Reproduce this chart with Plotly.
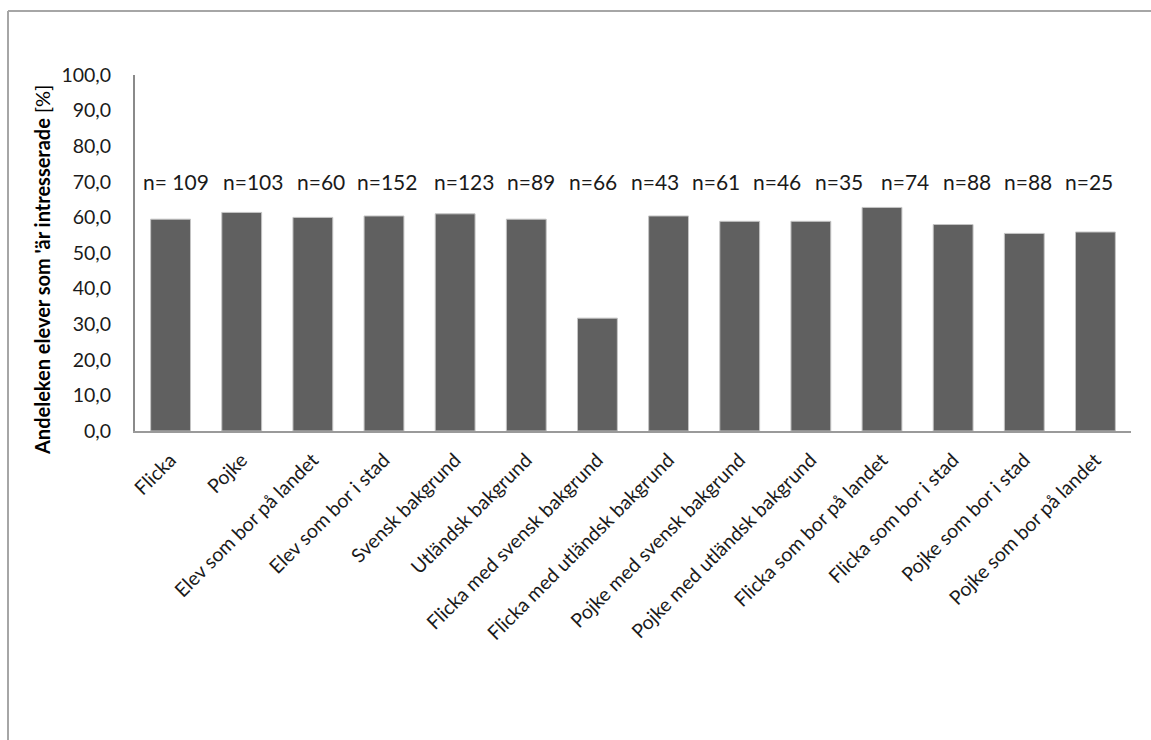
import plotly.graph_objects as go

# Share of pupils who are interested, per group (%)
categories = [
    "Flicka", "Pojke", "Elev som bor på landet", "Elev som bor i stad",
    "Svensk bakgrund", "Utländsk bakgrund", "Flicka med svensk bakgrund",
    "Flicka med utländsk bakgrund", "Pojke med svensk bakgrund",
    "Pojke med utländsk bakgrund", "Flicka som bor på landet",
    "Flicka som bor i stad", "Pojke som bor i stad", "Pojke som bor på landet",
]
values = [59.5, 61.4, 60.0, 60.4, 61.0, 59.5, 31.7, 60.4, 58.9, 58.9, 62.8, 58.0, 55.5, 55.9]

# Group sizes written in a row above the bars
n_labels = ["n= 109", "n=103", "n=60", "n=152", "n=123", "n=89", "n=66", "n=43",
            "n=61", "n=46", "n=35", "n=74", "n=88", "n=88", "n=25"]
n_label_row = 70.0

y_title_bold = "Andeleken elever som 'är intresserade"
y_title_unit = "[%]"

# Figure geometry (pixels)
W, H = 1151, 740
L, R, T, B = 135, 20, 75, 309
plot_w = W - L - R
plot_h = H - T - B

def px_to_xpaper(px):
    return (px - L) / plot_w

def py_to_ypaper(py):
    return (H - B - py) / plot_h

# horizontal centres of the n-labels along the row
n_label_px = [176, 253, 321, 387, 464, 531, 593, 655, 716, 777, 839, 905, 967, 1028, 1089]

FONT = "Lato, Open Sans, sans-serif"
TXT = "#1a1a1a"

fig = go.Figure(
    go.Bar(
        x=categories,
        y=values,
        marker=dict(color="#606060", line=dict(color="#c4c4c4", width=1)),
        hoverinfo="x+y",
    )
)

annotations = [
    dict(text=lbl, x=px_to_xpaper(px), xref="paper", y=n_label_row, yref="y",
         showarrow=False, xanchor="center", yanchor="middle",
         font=dict(family=FONT, size=21, color=TXT))
    for lbl, px in zip(n_labels, n_label_px)
]
annotations.append(
    dict(text="<b>" + y_title_bold + "</b> " + y_title_unit,
         x=px_to_xpaper(42), xref="paper", y=py_to_ypaper(270), yref="paper",
         textangle=-90, showarrow=False, xanchor="center", yanchor="middle",
         font=dict(family=FONT, size=20, color="#000000"))
)

# outer frame of the chart area (left and top edges)
frame = dict(color="#a6a6a6", width=2)
shapes = [
    dict(type="line", xref="paper", yref="paper",
         x0=px_to_xpaper(8), x1=px_to_xpaper(8),
         y0=py_to_ypaper(11), y1=py_to_ypaper(760), line=frame),
    dict(type="line", xref="paper", yref="paper",
         x0=px_to_xpaper(8), x1=px_to_xpaper(1170),
         y0=py_to_ypaper(11), y1=py_to_ypaper(11), line=frame),
]

fig.update_layout(
    width=W, height=H,
    margin=dict(l=L, r=R, t=T, b=B, autoexpand=False),
    paper_bgcolor="white", plot_bgcolor="white",
    separators=", ",
    bargap=0.44,
    showlegend=False,
    annotations=annotations,
    shapes=shapes,
    xaxis=dict(
        tickangle=-45,
        tickfont=dict(family=FONT, size=19.5, color=TXT),
        showline=True, linecolor="#9a9a9a", linewidth=2,
        ticks="", showgrid=False, zeroline=False,
        ticklabelstandoff=8,
    ),
    yaxis=dict(
        range=[0, 100], dtick=10, tickformat=".1f",
        tickfont=dict(family=FONT, size=19.5, color=TXT),
        showline=True, linecolor="#8a8a8a", linewidth=2,
        ticks="", showgrid=False, zeroline=False,
        ticklabelstandoff=18,
    ),
)

fig.write_html("out.html")
